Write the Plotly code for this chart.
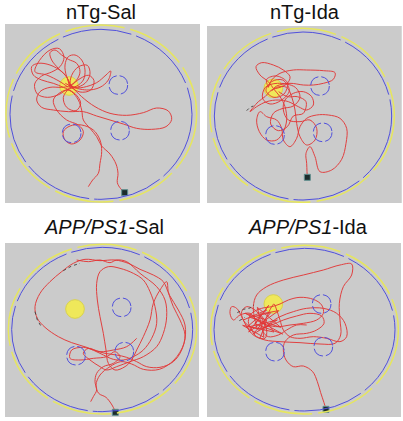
import plotly.graph_objects as go

# ---------------- data (track coordinates, camera pixels, y downward) ----------------
panel_titles = ["nTg-Sal", "nTg-Ida", "<i>APP/PS1</i>-Sal", "<i>APP/PS1</i>-Ida"]

# pool wall (outer, yellow) and pool edge (inner, blue) ellipses: x0, x1, y0, y1
pool_outer = [(18, 590, 75, 606), (30, 583, 85, 607), (25, 590, 103, 612), (32, 595, 106, 612)]
pool_inner = [(30, 576, 88, 598), (43, 575, 96, 600), (35, 578, 112, 605), (42, 585, 115, 603)]

# target platform centre and the three other quadrant zones
platform_xy = [(207, 258), (220, 265), (225, 297), (220, 282)]
other_zones_xy = [
    [(355, 255), (215, 400), (360, 392)],
    [(360, 258), (225, 405), (368, 397)],
    [(365, 292), (228, 437), (373, 425)],
    [(365, 282), (225, 425), (370, 410)],
]
zone_radius = 28
start_xy = [(374, 578), (322, 532), (346, 607), (378, 598)]

track_ntg_sal = [
    (374, 578), (362, 566), (352, 548), (354, 520), (348, 492), (330, 462), (305, 438), (290, 410),
    (270, 385), (250, 360), (245, 330), (235, 300), (215, 275), (190, 262), (160, 250), (125, 240),
    (100, 225), (95, 200), (115, 190), (150, 195), (185, 215), (205, 240), (210, 262), (230, 258),
    (250, 240), (255, 210), (245, 180), (225, 165), (205, 170), (195, 195), (200, 230), (215, 258),
    (245, 290), (285, 320), (330, 340), (380, 346), (430, 338), (470, 324), (505, 333), (515, 358),
    (498, 380), (455, 388), (410, 385), (370, 372), (330, 360), (290, 348), (250, 335), (205, 335),
    (160, 330), (125, 322), (110, 300), (120, 275), (150, 262), (185, 262), (207, 258), (230, 240),
    (240, 215), (230, 190), (205, 178), (185, 165), (165, 150), (150, 158), (155, 180), (175, 205),
    (200, 230), (210, 255), (260, 270), (300, 262), (325, 240), (332, 213), (318, 225), (290, 248),
    (250, 262), (215, 265), (180, 278), (160, 300), (170, 330), (200, 360), (235, 375), (250, 395),
    (240, 420), (215, 432), (195, 420), (190, 395), (210, 378), (245, 375), (280, 390), (300, 420),
    (305, 455), (300, 490), (295, 520), (278, 540), (265, 560),
]
track_ntg_sal_extra = [
    (205, 262), (180, 245), (140, 225), (105, 215), (118, 182), (150, 150), (178, 146), (192, 172),
    (180, 200), (155, 216), (125, 228), (104, 252), (112, 282), (142, 292), (176, 284), (202, 270),
    (226, 282), (242, 310), (228, 332), (200, 322), (190, 292), (210, 262), (240, 236), (266, 226),
    (282, 242), (272, 270), (240, 276), (212, 258), (215, 226), (236, 200), (262, 196), (270, 222),
    (255, 250), (225, 262), (196, 250),
]

track_ntg_ida = [
    (322, 532), (321, 515), (320, 490), (318, 460), (330, 440), (345, 470), (360, 515), (395, 510),
    (425, 478), (438, 430), (440, 385), (420, 355), (385, 345), (350, 345), (320, 355), (300, 380),
    (290, 415), (270, 440), (250, 420), (245, 385), (230, 360), (200, 350), (180, 335), (170, 360),
    (178, 395), (200, 420), (230, 420), (250, 395), (260, 360), (255, 320), (240, 290), (222, 268),
    (205, 245), (180, 225), (168, 200), (185, 188), (220, 195), (250, 210), (270, 230), (262, 250),
    (240, 262), (215, 270), (195, 290), (175, 305), (160, 322), (150, 335), (170, 320), (200, 305),
    (235, 300), (265, 305), (295, 320), (320, 330), (340, 315), (335, 290), (310, 275), (280, 280),
    (255, 300), (250, 330), (265, 360), (300, 365), (330, 360), (350, 385), (345, 420), (320, 435),
    (300, 410), (290, 370), (285, 330), (275, 290), (260, 262), (230, 262), (215, 272), (230, 258),
    (270, 250), (310, 255), (340, 255), (370, 250), (400, 238), (405, 218), (370, 212), (320, 210),
    (280, 210), (240, 220), (215, 240), (205, 262),
]
track_ntg_ida_extra = [
    (205, 262), (200, 238), (230, 228), (262, 248), (252, 282), (222, 292), (198, 272), (215, 245),
    (248, 240), (268, 272), (242, 302), (210, 312), (188, 296), (196, 262), (232, 250), (286, 262),
    (300, 292), (280, 318), (246, 326), (220, 340), (212, 372), (235, 392), (262, 380), (280, 348),
    (310, 340), (318, 305), (292, 290), (262, 290), (236, 275),
]

track_app_sal = [
    (346, 605), (336, 585), (318, 562), (296, 550), (288, 525), (300, 495), (330, 470), (362, 455),
    (395, 462), (430, 478), (478, 478), (522, 450), (552, 400), (555, 345), (535, 300), (508, 255),
    (490, 215), (460, 195), (420, 178), (385, 160), (345, 150), (300, 152), (255, 148), (220, 160),
    (185, 185), (150, 215), (120, 250), (105, 290), (112, 325), (135, 352), (175, 380), (215, 398),
    (260, 412), (300, 430), (340, 448), (370, 450), (400, 440), (430, 420), (455, 385), (470, 340),
    (465, 290), (450, 245), (430, 210), (400, 190), (360, 175), (325, 170), (300, 185), (290, 220),
    (292, 270), (300, 320), (310, 370), (318, 420), (325, 460), (345, 480), (375, 470), (395, 450),
    (410, 420), (430, 380), (450, 330), (460, 280), (480, 240), (500, 215), (505, 245), (520, 290),
    (540, 330), (555, 375), (545, 420), (520, 455), (480, 472), (440, 470), (410, 455), (380, 442),
    (350, 435), (315, 430), (280, 420), (250, 412), (215, 420), (210, 445), (240, 450), (280, 445),
    (320, 440), (345, 425), (360, 440), (340, 460), (310, 470), (290, 490), (285, 515), (290, 540),
    (280, 560), (272, 575),
]
track_app_sal_extra = [
    (230, 150), (265, 155), (300, 150), (330, 158), (350, 150), (380, 155), (420, 190), (470, 230),
    (495, 270), (500, 320), (490, 370), (470, 410), (430, 440), (390, 455), (350, 470), (320, 480),
    (300, 470), (270, 450), (250, 430), (265, 415), (300, 425), (340, 420), (380, 410), (410, 385),
]

track_app_ida = [
    (378, 598), (372, 578), (362, 548), (352, 515), (338, 485), (310, 468), (280, 470), (258, 450),
    (250, 420), (255, 395), (280, 375), (320, 370), (350, 360), (372, 340), (365, 318), (330, 310),
    (290, 318), (250, 330), (215, 345), (180, 355), (150, 350), (130, 330), (125, 305), (140, 290),
    (165, 300), (185, 325), (200, 360), (195, 385), (170, 380), (155, 360), (145, 335), (155, 310),
    (185, 295), (215, 290), (240, 282), (265, 270), (300, 262), (340, 268), (365, 285), (370, 310),
    (350, 330), (310, 340), (270, 345), (235, 350), (200, 345), (170, 330), (150, 310), (120, 315),
    (100, 330), (90, 310), (95, 290), (110, 295), (125, 320), (140, 350), (160, 375), (195, 390),
    (240, 395), (300, 398), (360, 402), (405, 400), (422, 375), (420, 330), (418, 280), (430, 230),
    (455, 195), (455, 162), (420, 165), (370, 180), (310, 195), (250, 210), (200, 230), (170, 255),
    (160, 290), (165, 330), (175, 360), (190, 340), (205, 310), (215, 290), (222, 282), (230, 300),
    (240, 330), (250, 360), (270, 380), (300, 385), (340, 380), (380, 385), (420, 395), (440, 380),
    (435, 340), (410, 310), (370, 295), (320, 295), (280, 305), (240, 320), (210, 340), (190, 365),
    (205, 380), (235, 375), (260, 360), (290, 345), (320, 345),
]
# jagged scribble in the left cluster (straight segments)
scribble_app_ida = [
    (130, 330), (200, 300), (140, 352), (232, 330), (160, 372), (212, 308), (150, 322), (242, 352),
    (172, 292), (192, 382), (128, 346), (222, 366), (180, 312), (236, 302), (146, 366), (206, 286),
    (166, 342), (248, 372), (136, 310), (200, 330), (180, 385),
]

tracks = [track_ntg_sal, track_ntg_ida, track_app_sal, track_app_ida]
extra_tracks = [track_ntg_sal_extra, track_ntg_ida_extra, track_app_sal_extra, []]
scribbles = [[], [], [], scribble_app_ida]

# short dark (untracked) segments
dark_segments = [
    [],
    [[(140, 332), (150, 322), (160, 318)]],
    [[(190, 182), (215, 168), (240, 160)], [(105, 305), (112, 330), (125, 352)]],
    [[(112, 308), (130, 298), (150, 294), (162, 285)], [(118, 332), (135, 322)]],
]

# ---------------- layout geometry ----------------
W, H = 403, 421
# gray panel extents in page pixels (left, right, top, bottom) and the track-coordinate origin
panels = [
    dict(l=5, r=200, t=24, b=203, ox=0, oy=0),
    dict(l=207, r=401.5, t=26, b=203, ox=200, oy=0),
    dict(l=5, r=199, t=243, b=417, ox=0, oy=210),
    dict(l=207, r=401, t=243, b=417, ox=200, oy=210),
]
S = 3.0  # track units per page pixel
title_pos = [(101, 12), (305, 12), (104, 227), (308, 227)]

RED = "#e43232"
BLUE = "#5050dc"
YELLOW = "#e6e65e"
GRAY = "#cbcbcb"

fig = go.Figure()
shapes = []


def add_line(pts, xr, yr, shape="spline", color=RED, dash=None):
    fig.add_trace(go.Scatter(x=[q[0] for q in pts], y=[q[1] for q in pts], mode="lines",
                             line=dict(color=color, width=1, shape=shape, dash=dash,
                                       **({"smoothing": 1.0} if shape == "spline" else {})),
                             opacity=0.9, xaxis=xr, yaxis=yr, hoverinfo="skip", showlegend=False))


for i, p in enumerate(panels):
    k = "" if i == 0 else str(i + 1)
    xa, ya = "xaxis" + k, "yaxis" + k
    xr, yr = "x" + k, "y" + k
    fig.update_layout(**{
        xa: dict(domain=[p["l"] / W, p["r"] / W],
                 range=[(p["l"] - p["ox"]) * S, (p["r"] - p["ox"]) * S],
                 visible=False, fixedrange=True, anchor=yr),
        ya: dict(domain=[1 - p["b"] / H, 1 - p["t"] / H],
                 range=[(p["b"] - p["oy"]) * S, (p["t"] - p["oy"]) * S],
                 visible=False, fixedrange=True, anchor=xr),
    })
    shapes.append(dict(type="rect", xref="paper", yref="paper", x0=p["l"] / W, x1=p["r"] / W,
                       y0=1 - p["b"] / H, y1=1 - p["t"] / H, fillcolor=GRAY, line=dict(width=0),
                       layer="below"))
    o = pool_outer[i]
    shapes.append(dict(type="circle", xref=xr, yref=yr, x0=o[0], x1=o[1], y0=o[2], y1=o[3],
                       line=dict(color=YELLOW, width=1.5, dash="60px,6px")))
    n = pool_inner[i]
    shapes.append(dict(type="circle", xref=xr, yref=yr, x0=n[0], x1=n[1], y0=n[2], y1=n[3],
                       line=dict(color=BLUE, width=1, dash="70px,5px")))
    for (cx, cy) in other_zones_xy[i]:
        shapes.append(dict(type="circle", xref=xr, yref=yr, x0=cx - zone_radius, x1=cx + zone_radius,
                           y0=cy - zone_radius, y1=cy + zone_radius,
                           line=dict(color=BLUE, width=1, dash="12px,3px")))
    px, py = platform_xy[i]
    shapes.append(dict(type="circle", xref=xr, yref=yr, x0=px - zone_radius, x1=px + zone_radius,
                       y0=py - zone_radius, y1=py + zone_radius, fillcolor="#efe85a",
                       line=dict(color="#d9d24c", width=1), layer="below"))

    add_line(tracks[i], xr, yr)
    if extra_tracks[i]:
        add_line(extra_tracks[i], xr, yr)
    if scribbles[i]:
        add_line(scribbles[i], xr, yr, shape="linear")
    for seg in dark_segments[i]:
        add_line(seg, xr, yr, shape="linear", color="#404040", dash="dot")
    sx, sy = start_xy[i]
    fig.add_trace(go.Scatter(x=[sx], y=[sy], mode="markers",
                             marker=dict(symbol="square", size=6, color="#1c2c2c",
                                         line=dict(color="#5f8f8f", width=1)),
                             xaxis=xr, yaxis=yr, hoverinfo="skip", showlegend=False))

annotations = []
for (tx, ty), t in zip(title_pos, panel_titles):
    annotations.append(dict(text=t, x=tx / W, y=1 - ty / H, xref="paper", yref="paper",
                            xanchor="center", yanchor="middle", showarrow=False,
                            font=dict(family="Liberation Sans, Arial, sans-serif", size=20,
                                      color="#111111")))

fig.update_layout(width=W, height=H, margin=dict(l=0, r=0, t=0, b=0),
                  paper_bgcolor="white", plot_bgcolor=GRAY,
                  shapes=shapes, annotations=annotations, showlegend=False)

fig.write_html("out.html", config={"displayModeBar": False},
               post_script="document.body.style.margin='0';document.body.style.overflow='hidden';")
